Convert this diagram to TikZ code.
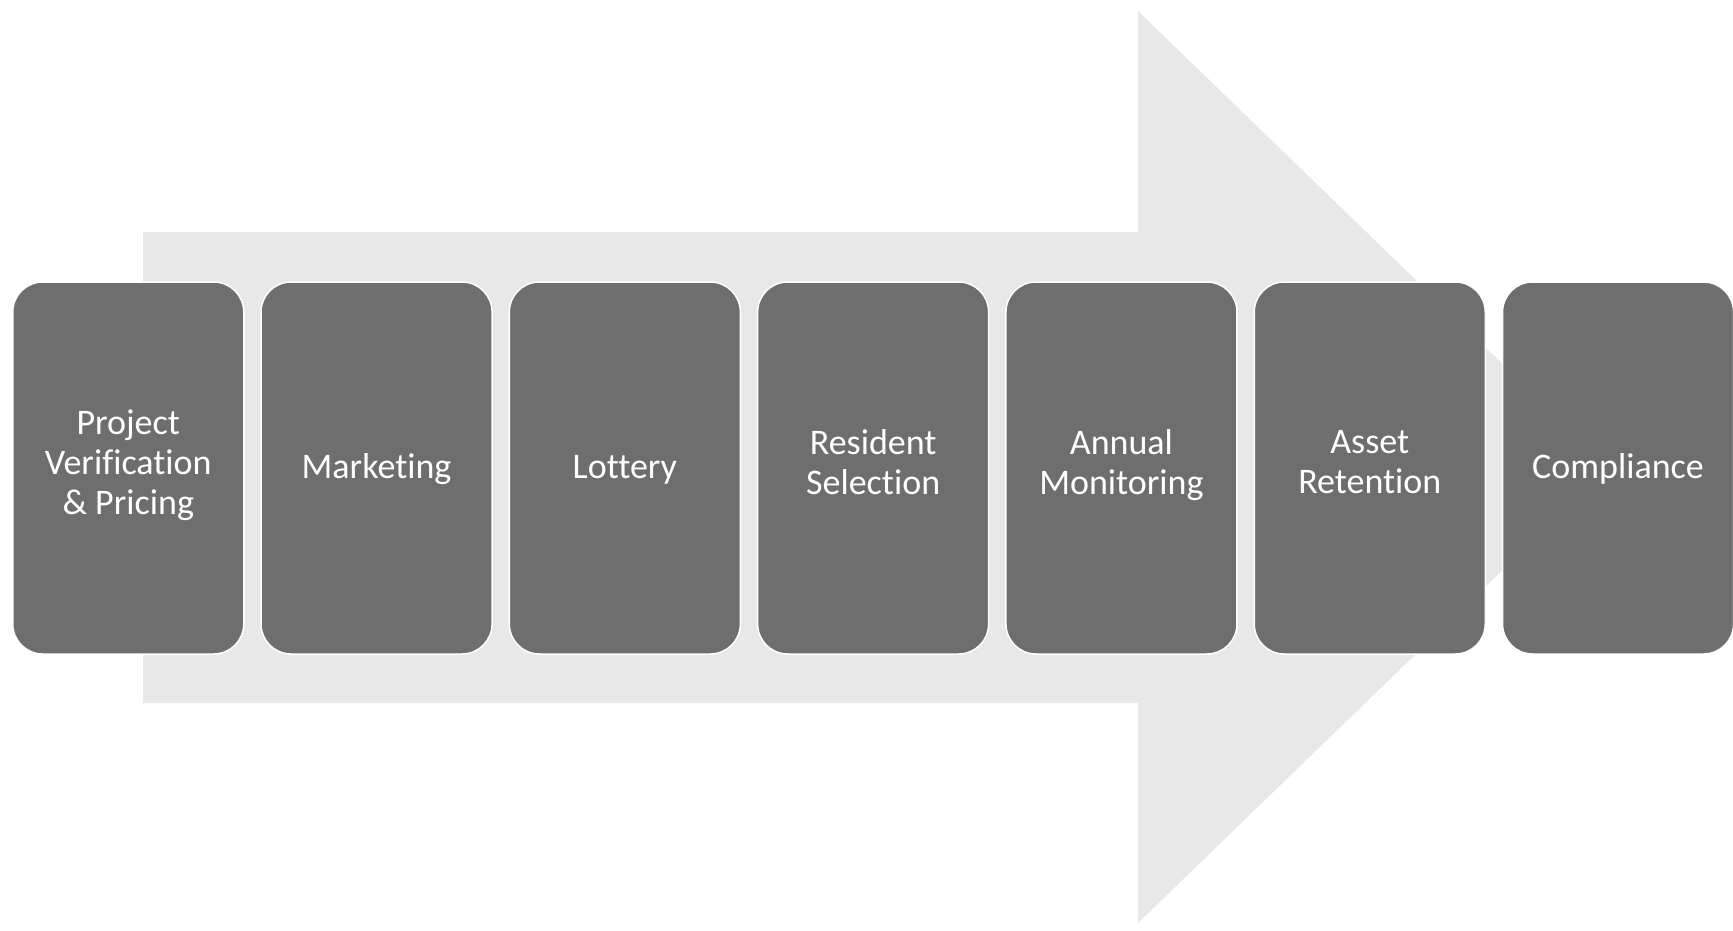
\documentclass[tikz,border=0pt]{standalone}
\usepackage{fontspec}
\setmainfont[Ligatures=CommonOff]{Carlito}
\usetikzlibrary{positioning}
\definecolor{stagegray}{RGB}{110,110,110}
\definecolor{arrowgray}{RGB}{232,232,232}

\begin{document}
\begin{tikzpicture}[x=1pt, y=-1pt, node distance=15.8pt,
	stage/.style={rectangle, rounded corners=30pt, fill=stagegray, draw=white, line width=1.5pt,
		minimum width=231pt, minimum height=372pt, text=white, align=center,
		font=\fontsize{36}{40}\selectfont,
		execute at begin node={\rule{0pt}{32pt}}, execute at end node=\strut}]
	\useasboundingbox (0,0) rectangle (1733,931);
		\fill[arrowgray] (143,232) -- (1138,232) -- (1138,11) -- (1609,467) -- (1138,923) -- (1138,703) -- (143,703) -- cycle;

	\node[stage, anchor=west] (verify) at (12,468) {Project\\Verification\\\& Pricing};
	\node[stage, right=of verify] (marketing) {Marketing};
	\node[stage, right=of marketing] (lottery) {Lottery};
	\node[stage, right=of lottery] (selection) {Resident\\Selection};
	\node[stage, right=of selection] (monitoring) {Annual\\Monitoring};
	\node[stage, right=of monitoring] (retention) {Asset\\Retention};
	\node[stage, right=of retention] (compliance) {Compliance};
		\end{tikzpicture}
\end{document}
